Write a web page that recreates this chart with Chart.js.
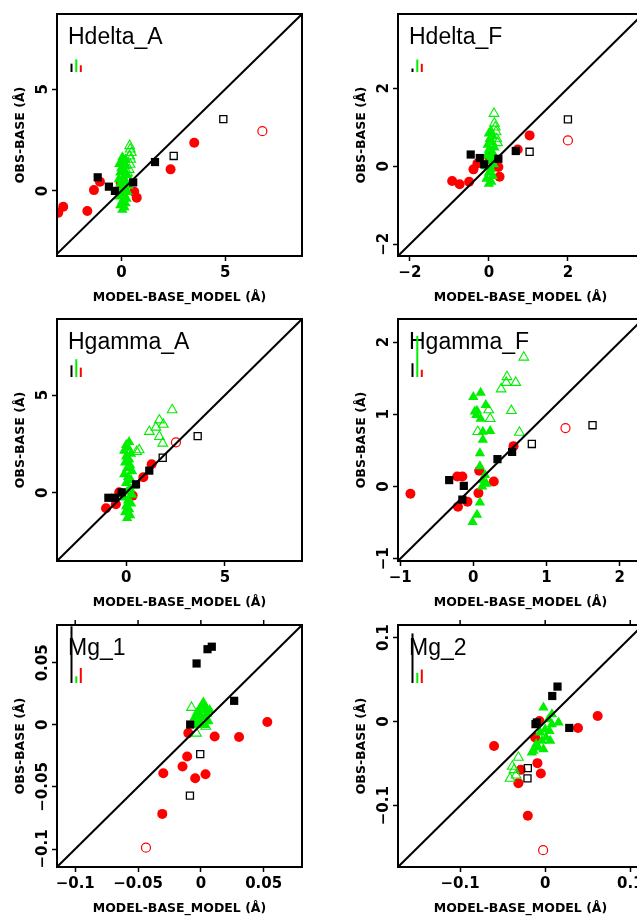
<!DOCTYPE html>
<html>
<head>
<meta charset="utf-8">
<script src="https://cdn.jsdelivr.net/npm/chart.js@4.4.1/dist/chart.umd.min.js"></script>
<style>
  html, body { margin: 0; padding: 0; background: #fff; overflow: hidden; width: 637px; height: 917px; }
  .panel { position: absolute; width: 318px; height: 305px; }
</style>
</head>
<body>
<div class="panel" style="left:0;top:0"><canvas id="hdeltaA" width="318" height="305"></canvas></div>
<div class="panel" style="left:341px;top:0"><canvas id="hdeltaF" width="318" height="305"></canvas></div>
<div class="panel" style="left:0;top:305px"><canvas id="hgammaA" width="318" height="305"></canvas></div>
<div class="panel" style="left:341px;top:305px"><canvas id="hgammaF" width="318" height="305"></canvas></div>
<div class="panel" style="left:0;top:611px"><canvas id="mg1" width="318" height="305"></canvas></div>
<div class="panel" style="left:341px;top:611px"><canvas id="mg2" width="318" height="305"></canvas></div>
<script>
// ---- data: [x, y] = [MODEL-BASE_MODEL, OBS-BASE] ----

// Hdelta_A
const hdeltaA_range = [-3.1, 8.7];
const hdeltaA_yrange = [-3.2, 8.7];
const hdeltaA_ticks = [0, 5];
const hdeltaA_errs = [0.41, 0.62, 0.33];
const hdeltaA_red = [[-3.04,-1.07],[-2.8,-0.78],[-1.64,-0.99],[-1.32,0.04],[-1.03,0.45],[-0.03,0.37],[0.62,-0.04],[0.74,-0.33],[2.37,1.06],[3.51,2.37]];
const hdeltaA_redOpen = [[6.79,2.94]];
const hdeltaA_black = [[-1.14,0.67],[-0.6,0.21],[-0.31,0.0],[0.57,0.42],[1.62,1.42]];
const hdeltaA_blackOpen = [[4.91,3.53],[2.52,1.72]];
const hdeltaA_green = [[0.05,-0.92],[0.15,-0.8],[-0.05,-0.7],[0.2,-0.6],[0.05,-0.5],[0.25,-0.38],[-0.1,-0.28],[0.1,-0.15],[0.3,-0.05],[0.0,0.05],[0.15,0.15],[0.35,0.25],[-0.05,0.35],[0.2,0.45],[-0.12,0.58],[0.1,0.68],[0.28,0.78],[-0.05,0.9],[0.15,1.0],[0.0,1.12],[0.22,1.22],[-0.1,1.32],[0.08,1.42],[0.2,1.55],[0.05,1.65]];
const hdeltaA_greenOpen = [[0.3,0.88],[0.38,1.05],[0.42,1.3],[0.45,1.55],[0.4,1.72],[0.48,1.88],[0.43,2.05],[0.4,2.22]];

// Hdelta_F
const hdeltaF_range = [-2.3, 3.9];
const hdeltaF_ticks = [-2, 0, 2];
const hdeltaF_errs = [0.09, 0.32, 0.21];
const hdeltaF_red = [[-0.93,-0.38],[-0.74,-0.46],[-0.5,-0.4],[-0.39,-0.08],[-0.29,0.07],[0.0,0.24],[0.24,-0.02],[0.27,-0.27],[0.73,0.43],[1.03,0.79]];
const hdeltaF_redOpen = [[2.0,0.66]];
const hdeltaF_black = [[-0.46,0.3],[-0.23,0.21],[-0.12,0.05],[0.24,0.19],[0.68,0.39]];
const hdeltaF_blackOpen = [[2.0,1.2],[1.03,0.37]];
const hdeltaF_green = [[0.0,-0.45],[0.06,-0.4],[-0.06,-0.32],[0.1,-0.25],[0.0,-0.17],[0.05,-0.08],[-0.08,0.0],[0.12,0.05],[0.0,0.12],[0.08,0.2],[-0.05,0.27],[0.1,0.34],[0.0,0.42],[0.14,0.48],[-0.03,0.55],[0.08,0.62],[0.02,0.7],[0.1,0.77],[0.0,0.84],[0.05,0.9]];
const hdeltaF_greenOpen = [[0.13,1.35],[0.14,1.1],[0.16,1.0],[0.18,0.88],[0.2,0.7],[0.22,0.6]];

// Hgamma_A
const hgammaA_range = [-3.5, 8.9];
const hgammaA_ticks = [0, 5];
const hgammaA_errs = [0.6, 0.91, 0.48];
const hgammaA_red = [[-1.02,-0.8],[-0.52,-0.59],[-0.35,0.02],[0.33,-0.15],[0.87,0.79],[1.29,1.46]];
const hgammaA_redOpen = [[2.52,2.58]];
const hgammaA_black = [[-0.9,-0.26],[-0.57,-0.26],[-0.23,0.02],[0.5,0.43],[1.17,1.13]];
const hgammaA_blackOpen = [[3.62,2.9],[1.85,1.79]];
const hgammaA_green = [[0.05,-1.3],[0.2,-1.15],[-0.05,-1.0],[0.15,-0.85],[0.0,-0.7],[0.25,-0.55],[0.1,-0.4],[-0.1,-0.25],[0.3,-0.1],[0.05,0.05],[0.2,0.2],[0.4,0.35],[0.0,0.5],[0.25,0.65],[0.1,0.8],[-0.1,0.95],[0.3,1.1],[0.05,1.25],[0.2,1.4],[-0.05,1.55],[0.15,1.7],[0.0,1.85],[0.25,2.0],[-0.1,2.15],[0.1,2.3],[0.0,2.45],[0.15,2.6]];
const hgammaA_greenOpen = [[2.33,4.24],[1.68,3.72],[1.88,3.5],[1.51,3.35],[1.17,3.13],[1.68,2.87],[1.85,2.53],[0.66,2.19],[0.53,2.1]];

// Hgamma_F
const hgammaF_range = [-1.03, 2.32];
const hgammaF_ticks = [-1, 0, 1, 2];
const hgammaF_errs = [0.19, 0.57, 0.1];
const hgammaF_red = [[-0.86,-0.1],[-0.22,0.14],[-0.15,0.14],[-0.21,-0.28],[-0.08,-0.21],[0.28,0.07],[0.55,0.56],[0.07,-0.09],[0.08,0.22]];
const hgammaF_redOpen = [[1.26,0.81]];
const hgammaF_black = [[-0.33,0.09],[-0.13,0.01],[-0.15,-0.18],[0.33,0.38],[0.53,0.48]];
const hgammaF_blackOpen = [[0.8,0.59],[1.63,0.85]];
const hgammaF_green = [[0.0,1.24],[0.1,1.3],[0.02,1.04],[0.17,1.13],[0.04,0.99],[0.1,0.94],[0.23,0.77],[0.13,0.76],[0.13,0.65],[0.09,0.46],[0.09,0.28],[0.18,0.04],[0.12,0.0],[0.09,-0.22],[0.05,-0.39],[-0.01,-0.49],[0.16,0.16],[0.13,0.09],[0.05,1.05]];
const hgammaF_greenOpen = [[0.69,1.79],[0.46,1.52],[0.45,1.44],[0.58,1.44],[0.38,1.35],[0.52,1.05],[0.21,1.06],[0.23,0.94],[0.63,0.75],[0.06,0.76]];

// Mg_1
const mg1_range = [-0.1145, 0.0805];
const mg1_ticks = [-0.1, -0.05, 0, 0.05];
const mg1_errs = [0.0457, 0.0054, 0.0121];
const mg1_red = [[-0.01,-0.0066],[0.011,-0.0094],[0.0304,-0.0098],[0.0529,0.0023],[-0.0109,-0.0255],[-0.0146,-0.0335],[-0.0299,-0.039],[-0.0045,-0.043],[0.0037,-0.0397],[-0.0307,-0.0717]];
const mg1_redOpen = [[-0.0437,-0.0989]];
const mg1_black = [[0.0087,0.063],[0.0053,0.061],[-0.0034,0.0495],[0.0265,0.0194],[-0.0085,0.0003]];
const mg1_blackOpen = [[-0.0005,-0.0235],[-0.0087,-0.057]];
const mg1_green = [[-0.004,0.0],[-0.002,0.004],[0.0,0.008],[0.002,0.012],[0.001,0.016],[-0.003,0.01],[0.004,0.006],[0.006,0.003],[0.003,0.0],[-0.001,0.013],[0.005,0.009],[0.0,0.002],[0.002,0.018],[0.007,0.012],[-0.005,0.006],[0.004,0.014]];
const mg1_greenOpen = [[-0.0074,0.014],[-0.0035,-0.0068],[0.004,-0.0013]];

// Mg_2
const mg2_range = [-0.173, 0.115];
const mg2_ticks = [-0.1, 0, 0.1];
const mg2_errs = [0.059, 0.012, 0.016];
const mg2_red = [[-0.0601,-0.0289],[0.0617,0.0068],[0.0386,-0.0075],[-0.0091,-0.0494],[-0.0051,-0.0617],[-0.0287,-0.0574],[-0.0315,-0.0732],[-0.0067,0.0008],[-0.0118,-0.0189],[-0.0204,-0.112]];
const mg2_redOpen = [[-0.0024,-0.153]];
const mg2_black = [[0.0145,0.0417],[0.0083,0.0305],[-0.0098,-0.001],[0.0283,-0.0075],[-0.0114,-0.003]];
const mg2_blackOpen = [[-0.0204,-0.0553],[-0.0208,-0.0676]];
const mg2_green = [[-0.002,0.0167],[0.0079,0.0088],[0.0157,-0.001],[0.0039,0.0029],[0.0,-0.009],[-0.0059,-0.0129],[0.0051,-0.011],[-0.0039,-0.0229],[0.0059,-0.0229],[-0.0079,-0.0308],[-0.0138,-0.0348],[-0.002,-0.0328],[-0.0106,-0.0268],[0.0079,-0.0031],[0.0012,-0.0189],[-0.0157,-0.0367]];
const mg2_greenOpen = [[-0.0315,-0.0426],[-0.0386,-0.0533],[-0.0366,-0.0574],[-0.0413,-0.0676],[-0.0342,-0.0637]];

// ---- styling ----
const RED = '#ff0000', GREEN = '#00ee00', BLACK = '#000000';
const TICK_FONT = { family: "'DejaVu Sans', sans-serif", size: 15, weight: 'bold' };
const LABEL_FONT = { family: "'DejaVu Sans', sans-serif", size: 12.5, weight: 'bold' };

const pts = arr => arr.map(([x, y]) => ({ x, y }));
const fmt = v => (v < 0 ? '\u2212' : '') + Math.abs(v);

// plot frame, rotated y tick labels, panel name, error-size key, top ticks
const decorations = {
  id: 'decorations',
  afterDraw(chart, args, o) {
    const { ctx, chartArea: a, scales: { x, y } } = chart;
    ctx.save();
    ctx.strokeStyle = BLACK;
    ctx.lineWidth = 2;
    ctx.strokeRect(a.left, a.top, a.right - a.left, a.bottom - a.top);

    if (o.topTicks) {
      ctx.lineWidth = 1.5;
      x.ticks.forEach(t => {
        const px = x.getPixelForValue(t.value);
        ctx.beginPath();
        ctx.moveTo(px, a.top);
        ctx.lineTo(px, a.top - 5);
        ctx.stroke();
      });
    }

    ctx.fillStyle = BLACK;
    ctx.font = `bold ${TICK_FONT.size}px ${TICK_FONT.family}`;
    ctx.textAlign = 'center';
    ctx.textBaseline = 'middle';
    y.ticks.forEach(t => {
      ctx.save();
      ctx.translate(a.left - 14.5, y.getPixelForValue(t.value));
      ctx.rotate(-Math.PI / 2);
      ctx.fillText(fmt(t.value), 0, 1);
      ctx.restore();
    });

    ctx.font = "23px 'Liberation Sans', Arial, sans-serif";
    ctx.textAlign = 'left';
    ctx.textBaseline = 'alphabetic';
    ctx.fillText(o.name, a.left + 11, a.top + 30);

    const base = a.top + 58;
    const zero = y.getPixelForValue(0);
    [[BLACK, 14.5], [GREEN, 19.3], [RED, 23.8]].forEach(([c, dx], i) => {
      const len = Math.abs(y.getPixelForValue(o.errs[i]) - zero);
      ctx.strokeStyle = c;
      ctx.lineWidth = 2;
      ctx.beginPath();
      ctx.moveTo(a.left + dx, base);
      ctx.lineTo(a.left + dx, base - len);
      ctx.stroke();
    });
    ctx.restore();
  }
};

function axis(range, ticks, extra) {
  return Object.assign({
    type: 'linear',
    min: range[0],
    max: range[1],
    afterBuildTicks: s => { s.ticks = ticks.map(value => ({ value })); },
    border: { display: false },
    grid: { display: true, drawOnChartArea: false, drawTicks: true, tickLength: 5, tickColor: BLACK, tickWidth: 1.5 },
  }, extra);
}

function buildPanel(id, name, xr, yr, ticks, errs, s, topTicks) {
  const lo = Math.min(xr[0], yr[0]), hi = Math.max(xr[1], yr[1]);
  new Chart(document.getElementById(id), {
    type: 'scatter',
    data: {
      datasets: [
        { type: 'line', data: [{ x: lo, y: lo }, { x: hi, y: hi }], borderColor: BLACK, borderWidth: 2, pointRadius: 0 },
        { data: pts(s.black), pointStyle: 'rect', pointRadius: 5.8, backgroundColor: BLACK, borderWidth: 0 },
        { data: pts(s.blackOpen), pointStyle: 'rect', pointRadius: 5, backgroundColor: 'rgba(0,0,0,0)', borderColor: BLACK, borderWidth: 1.3 },
        { data: pts(s.green), pointStyle: 'triangle', pointRadius: 6, backgroundColor: GREEN, borderWidth: 0 },
        { data: pts(s.greenOpen), pointStyle: 'triangle', pointRadius: 5.6, backgroundColor: 'rgba(0,0,0,0)', borderColor: GREEN, borderWidth: 1.1 },
        { data: pts(s.red), pointStyle: 'circle', pointRadius: 5, backgroundColor: RED, borderWidth: 0 },
        { data: pts(s.redOpen), pointStyle: 'circle', pointRadius: 4.5, backgroundColor: 'rgba(0,0,0,0)', borderColor: RED, borderWidth: 1.2 },
      ],
    },
    options: {
      responsive: false,
      animation: false,
      events: [],
      layout: { padding: { top: 14, right: 16, bottom: 0, left: 0 } },
      plugins: {
        legend: { display: false },
        tooltip: { enabled: false },
        decorations: { name, errs, topTicks },
      },
      scales: {
        x: axis(xr, ticks, {
          afterFit: s => { s.height = 49; },
          ticks: { color: BLACK, font: TICK_FONT, padding: 3, maxRotation: 0, autoSkip: false, callback: fmt },
          title: { display: true, text: 'MODEL-BASE_MODEL (\u00c5)', color: BLACK, font: LABEL_FONT, padding: { top: 0, bottom: 0 } },
        }),
        y: axis(yr, ticks, {
          afterFit: s => { s.width = 57; },
          ticks: { display: false },
          title: { display: true, text: 'OBS-BASE (\u00c5)', color: BLACK, font: LABEL_FONT, padding: { top: 13, bottom: 0 } },
        }),
      },
    },
    plugins: [decorations],
  });
}

buildPanel('hdeltaA', 'Hdelta_A', hdeltaA_range, hdeltaA_yrange, hdeltaA_ticks, hdeltaA_errs, {
  red: hdeltaA_red, redOpen: hdeltaA_redOpen, black: hdeltaA_black, blackOpen: hdeltaA_blackOpen, green: hdeltaA_green, greenOpen: hdeltaA_greenOpen }, false);
buildPanel('hdeltaF', 'Hdelta_F', hdeltaF_range, hdeltaF_range, hdeltaF_ticks, hdeltaF_errs, {
  red: hdeltaF_red, redOpen: hdeltaF_redOpen, black: hdeltaF_black, blackOpen: hdeltaF_blackOpen, green: hdeltaF_green, greenOpen: hdeltaF_greenOpen }, false);
buildPanel('hgammaA', 'Hgamma_A', hgammaA_range, hgammaA_range, hgammaA_ticks, hgammaA_errs, {
  red: hgammaA_red, redOpen: hgammaA_redOpen, black: hgammaA_black, blackOpen: hgammaA_blackOpen, green: hgammaA_green, greenOpen: hgammaA_greenOpen }, false);
buildPanel('hgammaF', 'Hgamma_F', hgammaF_range, hgammaF_range, hgammaF_ticks, hgammaF_errs, {
  red: hgammaF_red, redOpen: hgammaF_redOpen, black: hgammaF_black, blackOpen: hgammaF_blackOpen, green: hgammaF_green, greenOpen: hgammaF_greenOpen }, false);
buildPanel('mg1', 'Mg_1', mg1_range, mg1_range, mg1_ticks, mg1_errs, {
  red: mg1_red, redOpen: mg1_redOpen, black: mg1_black, blackOpen: mg1_blackOpen, green: mg1_green, greenOpen: mg1_greenOpen }, true);
buildPanel('mg2', 'Mg_2', mg2_range, mg2_range, mg2_ticks, mg2_errs, {
  red: mg2_red, redOpen: mg2_redOpen, black: mg2_black, blackOpen: mg2_blackOpen, green: mg2_green, greenOpen: mg2_greenOpen }, true);
</script>
</body>
</html>
